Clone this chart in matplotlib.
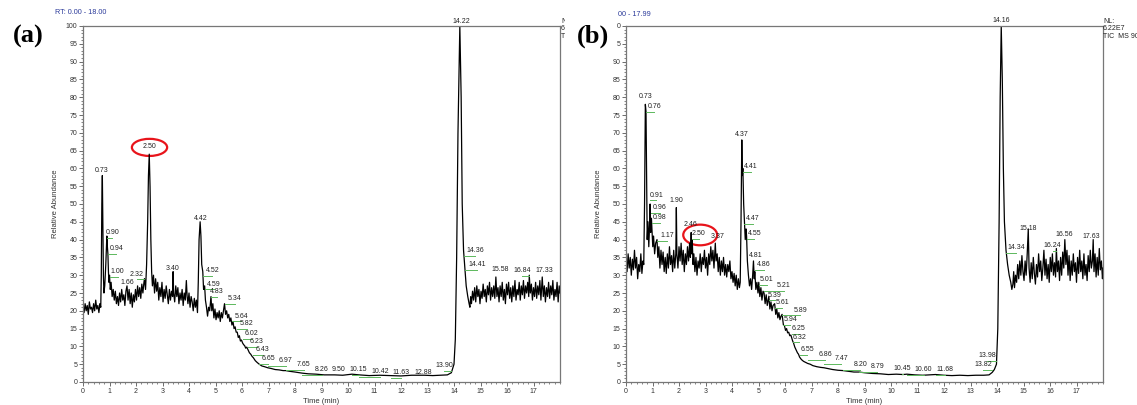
import numpy as np
import matplotlib.pyplot as plt
from matplotlib.patches import Ellipse
from matplotlib.ticker import MultipleLocator, FuncFormatter
from matplotlib.transforms import Bbox

# chromatogram (a): (time min, relative abundance)
trace_a = [
    (0.00, 21), (0.04, 19.5), (0.08, 22), (0.12, 20), (0.16, 21.5), (0.20, 19), (0.24, 22.5), (0.28, 20.5),
    (0.32, 21), (0.36, 19.5), (0.40, 22), (0.44, 20), (0.48, 23), (0.52, 20.5), (0.56, 21.5), (0.60, 19.5),
    (0.64, 22), (0.67, 21), (0.69, 30), (0.71, 50), (0.73, 58), (0.75, 45), (0.77, 30), (0.79, 25),
    (0.82, 27), (0.86, 33), (0.90, 41), (0.92, 38), (0.94, 36), (0.96, 31), (0.98, 28), (1.00, 30),
    (1.03, 26), (1.06, 28), (1.10, 24), (1.14, 26), (1.18, 23), (1.22, 25.5), (1.26, 22), (1.30, 24),
    (1.34, 21.5), (1.38, 25), (1.42, 22.5), (1.46, 26), (1.50, 23), (1.54, 24.5), (1.58, 21.5), (1.62, 25.5),
    (1.66, 27), (1.70, 23), (1.74, 26), (1.78, 22), (1.82, 25), (1.86, 21), (1.90, 24.5), (1.94, 22.5),
    (1.98, 26), (2.02, 23), (2.06, 27), (2.10, 24), (2.14, 26.5), (2.18, 23.5), (2.22, 27.5), (2.26, 25),
    (2.30, 28), (2.32, 29), (2.36, 26), (2.40, 33), (2.44, 45), (2.47, 58), (2.50, 64), (2.53, 55),
    (2.56, 40), (2.59, 31), (2.62, 27), (2.66, 30), (2.70, 25), (2.74, 29), (2.78, 25.5), (2.82, 28),
    (2.86, 23), (2.90, 26.5), (2.94, 24), (2.98, 28), (3.02, 22.5), (3.06, 26), (3.10, 23.5), (3.14, 27),
    (3.18, 24.5), (3.22, 22), (3.26, 26), (3.30, 23), (3.34, 25.5), (3.38, 24), (3.40, 31), (3.42, 25),
    (3.46, 22.5), (3.50, 27), (3.54, 24), (3.58, 26.5), (3.62, 22), (3.66, 25), (3.70, 23), (3.74, 26),
    (3.78, 21.5), (3.82, 25), (3.86, 23), (3.90, 28.5), (3.93, 24), (3.96, 22), (4.00, 25), (4.04, 21),
    (4.08, 24), (4.12, 22.5), (4.16, 20), (4.20, 23.5), (4.24, 21), (4.28, 23), (4.32, 19.5), (4.35, 28),
    (4.38, 40), (4.42, 45), (4.45, 41), (4.48, 33), (4.52, 31), (4.55, 26), (4.59, 27), (4.62, 23),
    (4.66, 21), (4.70, 18.5), (4.74, 21), (4.78, 20), (4.83, 24), (4.86, 20), (4.90, 22), (4.94, 18),
    (4.98, 20.5), (5.02, 17.5), (5.06, 19.5), (5.10, 18), (5.14, 20), (5.18, 17), (5.22, 19.5), (5.26, 18),
    (5.30, 20), (5.34, 22), (5.38, 19), (5.42, 20), (5.46, 18), (5.50, 19), (5.54, 17), (5.58, 18),
    (5.62, 16), (5.66, 17), (5.70, 15), (5.74, 15.5), (5.78, 14), (5.82, 14), (5.86, 12.5), (5.90, 13),
    (5.94, 11.5), (5.98, 11.8), (6.02, 11), (6.06, 10.5), (6.10, 10.2), (6.14, 9.5), (6.18, 9.8), (6.23, 9),
    (6.28, 8.2), (6.33, 7.8), (6.38, 7.2), (6.43, 6.8), (6.50, 6.0), (6.57, 5.5), (6.65, 5.0), (6.75, 4.5),
    (6.85, 4.3), (6.97, 4.0), (7.10, 3.8), (7.25, 3.5), (7.40, 3.4), (7.55, 3.2), (7.65, 3.2), (7.80, 3.0),
    (8.00, 2.8), (8.26, 2.5), (8.50, 2.3), (8.80, 2.2), (9.10, 2.0), (9.50, 2.0), (9.80, 1.9), (10.15, 2.2),
    (10.42, 2.0), (10.80, 1.8), (11.20, 1.9), (11.63, 1.8), (12.00, 1.7), (12.40, 1.9), (12.88, 1.9),
    (13.20, 1.8), (13.50, 1.9), (13.75, 2.0), (13.90, 2.6), (14.00, 5), (14.05, 12), (14.10, 35),
    (14.15, 70), (14.22, 100), (14.27, 80), (14.31, 50), (14.36, 37), (14.41, 32), (14.46, 27), (14.52, 24),
    (14.57, 22), (14.60, 21), (14.63, 24), (14.66, 22), (14.70, 25.5), (14.74, 23), (14.78, 26.5), (14.82, 22.5),
    (14.86, 27), (14.90, 24), (14.94, 26), (14.98, 22), (15.02, 25.5), (15.06, 23.5), (15.10, 27.5), (15.14, 24),
    (15.18, 26), (15.22, 22.5), (15.26, 27), (15.30, 24.5), (15.34, 28), (15.38, 23), (15.42, 26.5), (15.46, 24),
    (15.50, 27), (15.54, 23.5), (15.58, 29.5), (15.62, 24), (15.66, 26.5), (15.70, 22.5), (15.74, 27), (15.78, 24),
    (15.82, 28), (15.86, 23), (15.90, 26), (15.94, 22), (15.98, 27.5), (16.02, 24.5), (16.06, 28), (16.10, 23.5),
    (16.14, 26.5), (16.18, 22.5), (16.22, 27), (16.26, 24), (16.30, 28.5), (16.34, 23), (16.38, 26), (16.42, 24.5),
    (16.46, 28), (16.50, 23), (16.54, 27), (16.58, 24.5), (16.62, 28.5), (16.66, 23.5), (16.70, 27), (16.74, 25),
    (16.78, 28), (16.82, 24), (16.84, 30), (16.88, 25), (16.92, 27.5), (16.96, 23), (17.00, 26.5), (17.04, 24),
    (17.08, 28), (17.12, 23.5), (17.16, 27), (17.20, 24.5), (17.24, 28.5), (17.28, 23), (17.33, 29.5), (17.37, 24),
    (17.41, 27), (17.45, 22.5), (17.49, 26.5), (17.53, 24), (17.57, 28), (17.61, 23.5), (17.65, 27), (17.69, 24.5),
    (17.73, 28.5), (17.77, 23), (17.81, 26), (17.85, 24), (17.89, 28), (17.93, 22.5), (17.97, 27), (18.00, 25),
]

# chromatogram (b)
trace_b = [
    (0.00, 34), (0.04, 31), (0.08, 36), (0.12, 32), (0.16, 35), (0.20, 30), (0.24, 34.5), (0.28, 31.5),
    (0.32, 37), (0.36, 32), (0.40, 35), (0.44, 29), (0.48, 33), (0.52, 31), (0.56, 36), (0.60, 30.5),
    (0.64, 34), (0.67, 33), (0.70, 50), (0.73, 78), (0.755, 76), (0.78, 55), (0.80, 40), (0.83, 45),
    (0.86, 38), (0.89, 44), (0.91, 50), (0.93, 42), (0.96, 46), (0.98, 43), (1.01, 38), (1.04, 41),
    (1.08, 36), (1.12, 39), (1.17, 40), (1.20, 35), (1.24, 38), (1.28, 32), (1.32, 37), (1.36, 33),
    (1.40, 36.5), (1.44, 31), (1.48, 35), (1.52, 30.5), (1.56, 36), (1.60, 32), (1.64, 38), (1.68, 33),
    (1.72, 35.5), (1.76, 31), (1.80, 37), (1.84, 32), (1.88, 36), (1.90, 49), (1.92, 36), (1.96, 32),
    (2.00, 38), (2.04, 34), (2.08, 39), (2.12, 33), (2.16, 37), (2.20, 31), (2.24, 36), (2.28, 33),
    (2.32, 38), (2.36, 34), (2.40, 39), (2.43, 35), (2.46, 42), (2.48, 36), (2.50, 40), (2.53, 33),
    (2.56, 36), (2.60, 31), (2.64, 35), (2.68, 30), (2.72, 34), (2.76, 32), (2.80, 36), (2.84, 31),
    (2.88, 35), (2.92, 33), (2.96, 37), (3.00, 32), (3.04, 35), (3.08, 30), (3.12, 36), (3.16, 33),
    (3.20, 38), (3.24, 34), (3.28, 37), (3.32, 32), (3.37, 39), (3.40, 34), (3.44, 36), (3.48, 31),
    (3.52, 35), (3.56, 30), (3.60, 34), (3.64, 31), (3.68, 35), (3.72, 30), (3.76, 33), (3.80, 29.5),
    (3.84, 33), (3.88, 31), (3.92, 34), (3.96, 29), (4.00, 31), (4.04, 28), (4.08, 30.5), (4.12, 27),
    (4.16, 30), (4.20, 26), (4.24, 29), (4.28, 26.5), (4.31, 28), (4.34, 45), (4.37, 68), (4.39, 58),
    (4.41, 60), (4.44, 50), (4.47, 45), (4.50, 40), (4.53, 43), (4.55, 41), (4.58, 34), (4.62, 30),
    (4.66, 27), (4.70, 29), (4.74, 26), (4.78, 30), (4.81, 34), (4.84, 29), (4.86, 31), (4.90, 26),
    (4.94, 28), (4.98, 25), (5.01, 28), (5.05, 24), (5.09, 26.5), (5.13, 23), (5.17, 25.5), (5.21, 25),
    (5.25, 22), (5.29, 24.5), (5.33, 21.5), (5.39, 24), (5.43, 20.5), (5.47, 22.5), (5.51, 20), (5.55, 21.5),
    (5.61, 22), (5.65, 19), (5.69, 20.5), (5.73, 18), (5.77, 19.5), (5.81, 17.5), (5.85, 18.5), (5.89, 19),
    (5.94, 16), (5.98, 15.8), (6.02, 14.5), (6.06, 15), (6.10, 13.8), (6.14, 14), (6.18, 13), (6.22, 13.2),
    (6.25, 12.5), (6.29, 11.5), (6.32, 11), (6.37, 9.8), (6.42, 9), (6.47, 8.2), (6.51, 7.8), (6.55, 7),
    (6.62, 6.3), (6.70, 5.8), (6.78, 5.5), (6.86, 5.2), (6.95, 5.0), (7.05, 4.6), (7.20, 4.3), (7.35, 4.1),
    (7.47, 4.0), (7.60, 3.8), (7.80, 3.5), (8.00, 3.3), (8.20, 3.2), (8.40, 3.0), (8.60, 2.8), (8.79, 2.8),
    (9.00, 2.6), (9.30, 2.4), (9.60, 2.3), (9.90, 2.1), (10.20, 2.2), (10.45, 2.1), (10.60, 2.2), (10.90, 2.0),
    (11.20, 1.9), (11.45, 2.0), (11.68, 2.1), (12.00, 1.9), (12.30, 1.8), (12.60, 1.9), (12.90, 1.8),
    (13.20, 1.9), (13.50, 1.9), (13.70, 2.0), (13.82, 2.7), (13.90, 3.5), (13.98, 5), (14.03, 15),
    (14.08, 45), (14.12, 80), (14.16, 100), (14.20, 85), (14.24, 60), (14.28, 45), (14.34, 37), (14.40, 33),
    (14.46, 30), (14.52, 28), (14.56, 26), (14.60, 27.5), (14.63, 31), (14.66, 26.5), (14.70, 30), (14.74, 28),
    (14.78, 33), (14.82, 29), (14.86, 34), (14.90, 30), (14.94, 35.5), (14.98, 31), (15.02, 28.5), (15.06, 34),
    (15.10, 30), (15.14, 36), (15.18, 43), (15.21, 32), (15.25, 28), (15.29, 33.5), (15.33, 29), (15.37, 35),
    (15.41, 30.5), (15.45, 27.5), (15.49, 33), (15.53, 29.5), (15.57, 36), (15.61, 31), (15.65, 34), (15.69, 28.5),
    (15.73, 32), (15.77, 37), (15.81, 30), (15.85, 34.5), (15.89, 29), (15.93, 33), (15.97, 28), (16.01, 35),
    (16.05, 31), (16.09, 36), (16.13, 30), (16.17, 33.5), (16.21, 29.5), (16.24, 37.5), (16.28, 31), (16.32, 34),
    (16.36, 28.5), (16.40, 35), (16.44, 30), (16.48, 36.5), (16.52, 32), (16.56, 40), (16.60, 33), (16.64, 37),
    (16.68, 30), (16.72, 35.5), (16.76, 28.5), (16.80, 34), (16.84, 30), (16.88, 36), (16.92, 31), (16.96, 33.5),
    (17.00, 28), (17.04, 35), (17.08, 30.5), (17.12, 37), (17.16, 31), (17.20, 34), (17.24, 29), (17.28, 36),
    (17.32, 30), (17.36, 33), (17.40, 28.5), (17.44, 35.5), (17.48, 31), (17.52, 37), (17.56, 32), (17.60, 34),
    (17.63, 40), (17.66, 31), (17.70, 36), (17.74, 29.5), (17.78, 35), (17.82, 30), (17.86, 37.5), (17.90, 31.5),
    (17.94, 34), (17.98, 29), (18.00, 32),
]

# peak labels: (text, label x, label y)
peaks_a = [
    ('0.73', 0.72, 59.5), ('0.90', 1.10, 42), ('0.94', 1.25, 37.4), ('1.00', 1.31, 31), ('1.66', 1.68, 28),
    ('2.32', 2.04, 30.3), ('2.50', 2.49, 66.1), ('3.40', 3.38, 32), ('4.42', 4.44, 46), ('4.52', 4.88, 31.3),
    ('4.59', 4.94, 27.5), ('4.83', 5.05, 25.3), ('5.34', 5.72, 23.4), ('5.64', 5.98, 18.5), ('5.82', 6.17, 16.3),
    ('6.02', 6.36, 13.7), ('6.23', 6.56, 11.3), ('6.43', 6.78, 9.1), ('6.65', 6.99, 6.5), ('6.97', 7.66, 5.9),
    ('7.65', 8.33, 4.8), ('8.26', 9.00, 3.6), ('9.50', 9.65, 3.4), ('10.15', 10.40, 3.4), ('10.42', 11.20, 2.9),
    ('11.63', 12.00, 2.7), ('12.88', 12.83, 2.7), ('13.90', 13.64, 4.6), ('14.22', 14.29, 101.4),
    ('14.36', 14.81, 37), ('14.41', 14.86, 33), ('15.58', 15.73, 31.6), ('16.84', 16.57, 31.4), ('17.33', 17.42, 31.4),
]
peaks_b = [
    ('0.73', 0.73, 80.3), ('0.76', 1.07, 77.3), ('0.91', 1.14, 52.5), ('0.96', 1.27, 49), ('0.98', 1.27, 46.2),
    ('1.17', 1.55, 41.1), ('1.90', 1.89, 51.1), ('2.46', 2.43, 44.3), ('2.50', 2.75, 41.6), ('3.37', 3.46, 41),
    ('4.37', 4.38, 69.6), ('4.41', 4.72, 60.5), ('4.47', 4.79, 46), ('4.55', 4.84, 41.8), ('4.81', 4.88, 35.5),
    ('4.86', 5.19, 33.1), ('5.01', 5.32, 28.7), ('5.21', 5.95, 27.1), ('5.39', 5.61, 24.4), ('5.61', 5.89, 22.3),
    ('5.89', 6.58, 20.2), ('5.94', 6.20, 17.6), ('6.25', 6.51, 15), ('6.32', 6.54, 12.6), ('6.55', 6.83, 9.2),
    ('6.86', 7.52, 7.6), ('7.47', 8.12, 6.6), ('8.20', 8.84, 4.9), ('8.79', 9.49, 4.3), ('10.45', 10.41, 3.8),
    ('10.60', 11.23, 3.6), ('11.68', 12.05, 3.6), ('13.98', 13.62, 7.4), ('13.82', 13.49, 4.8),
    ('14.16', 14.16, 101.5), ('14.34', 14.73, 37.7), ('15.18', 15.17, 43.2), ('16.24', 16.10, 38.3),
    ('16.56', 16.55, 41.4), ('17.63', 17.55, 40.8),
]
plain_a = {'0.73', '1.66', '2.50', '3.40', '4.42', '9.50', '12.88', '14.22', '15.58', '17.33'}
plain_b = {'0.73', '1.90', '2.46', '3.37', '4.37', '4.81', '14.16', '15.18', '16.56', '17.63'}

# red ellipses around the 2.50 peak: (centre x, centre y, width min, height %)
ring_a = (2.51, 65.9, 1.33, 4.8)
ring_b = (2.80, 41.3, 1.28, 5.8)

W, H = 1137, 405
fig = plt.figure(figsize=(W / 100, H / 100), dpi=100)
plt.rcParams['font.family'] = ['Liberation Sans', 'DejaVu Sans']

grey = '#555555'
green = '#5cb85c'


def panel(left_px, trace, peaks, plain, ring):
    ax = fig.add_axes([left_px / W, 23 / H, 477 / W, 356 / H])
    t, y = zip(*trace)
    ax.plot(t, y, color='black', lw=0.9)
    ax.set_xlim(0, 18)
    ax.set_ylim(0, 100)
    ax.xaxis.set_major_locator(MultipleLocator(1))
    ax.xaxis.set_minor_locator(MultipleLocator(0.2))
    ax.yaxis.set_major_locator(MultipleLocator(5))
    ax.yaxis.set_minor_locator(MultipleLocator(1))
    ax.set_xticks(range(0, 18))
    ax.tick_params(which='major', direction='out', length=3, width=0.6, color=grey,
                   labelsize=5, labelcolor='#333333', pad=1)
    ax.tick_params(which='minor', direction='out', length=1.6, width=0.5, color=grey)
    for s in ax.spines.values():
        s.set_color('#777777')
        s.set_linewidth(0.9)
    ax.set_xlabel('Time (min)', fontsize=5.5, color='#333333')
    ax.xaxis.set_label_coords(0.5, -0.045)
    ax.set_ylabel('Relative Abundance', fontsize=5.5, color='#333333')
    ax.yaxis.set_label_coords(-0.05, 0.5)

    for lab, lx, ly in peaks:
        ax.text(lx, ly, lab, fontsize=5, color='#222222', ha='center', va='center', clip_on=False)
        if lab not in plain:
            ax.plot([float(lab), lx], [ly - 1.5, ly - 1.5], color=green, lw=0.7, clip_on=False)
    cx, cy, ew, eh = ring
    ax.add_patch(Ellipse((cx, cy), ew, eh, fill=False, edgecolor='#e8141b', lw=1.6, clip_on=False))
    return ax


ax_a = panel(83, trace_a, peaks_a, plain_a, ring_a)
ax_b = panel(626, trace_b, peaks_b, plain_b, ring_b)
# in (b) the panel letter hides the leading digits of the top two tick labels
ax_b.yaxis.set_major_formatter(FuncFormatter(lambda v, p: str(int(v))[-1] if v >= 95 else str(int(v))))

# header texts
fig.text(55 / W, 1 - 13 / H, 'RT: 0.00 - 18.00', fontsize=5.2, color='#2b3a9a', va='center')
fig.text(618 / W, 1 - 14 / H, '00 - 17.99', fontsize=5.2, color='#2b3a9a', va='center')
fig.text(1103 / W, 1 - 18 / H, 'NL:\n6.22E7\nTIC  MS 90', fontsize=5, color='#222222',
         va='top', linespacing=1.1)
# sliver of the cut-off header of panel (a)
stub = fig.text(561 / W, 1 - 18 / H, 'N\n6\nT', fontsize=5, color='#222222',
                va='top', linespacing=1.1)
stub.set_clip_box(Bbox.from_extents(560, H - 42, 565, H - 14))
stub.set_clip_on(True)

# panel letters
fig.text(28 / W, 1 - 36 / H, '(a)', fontsize=19, fontweight='bold', family='Liberation Serif',
         ha='center', va='center')
fig.text(593 / W, 1 - 36 / H, '(b)', fontsize=19, fontweight='bold', family='Liberation Serif',
         ha='center', va='center')

fig.savefig('out.png', dpi=100)
